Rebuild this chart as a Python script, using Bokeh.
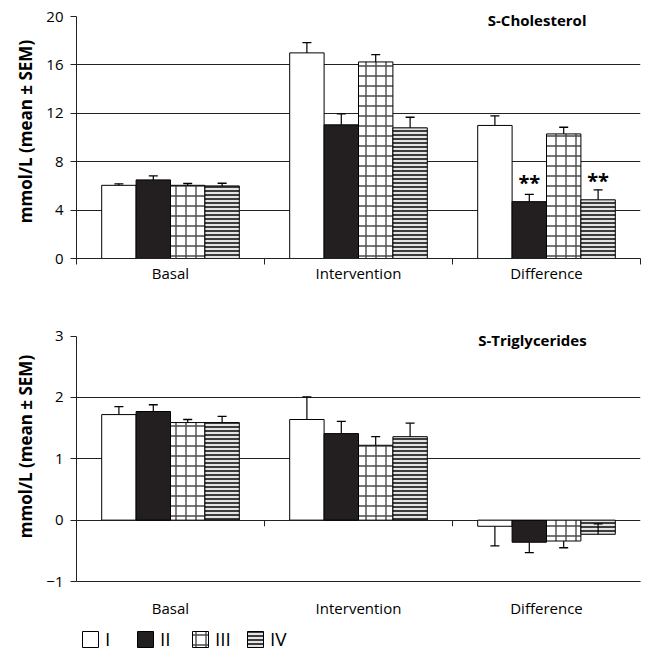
from bokeh.plotting import figure
from bokeh.models import Range1d, FixedTicker, Label, Legend, LegendItem
from bokeh.layouts import column
from bokeh.embed import file_html
from bokeh.resources import INLINE
from bokeh.core.properties import value

# ---------------- data ----------------
categories = ["Basal", "Intervention", "Difference"]
groups = ["I", "II", "III", "IV"]

chol_I = [6.05, 17.0, 11.0]
chol_II = [6.5, 11.05, 4.7]
chol_III = [6.05, 16.25, 10.3]
chol_IV = [6.0, 10.8, 4.85]
chol_sem_I = [0.12, 0.85, 0.8]
chol_sem_II = [0.33, 0.9, 0.6]
chol_sem_III = [0.15, 0.6, 0.55]
chol_sem_IV = [0.22, 0.88, 0.83]

tg_I = [1.72, 1.64, -0.10]
tg_II = [1.77, 1.41, -0.36]
tg_III = [1.59, 1.22, -0.34]
tg_IV = [1.59, 1.36, -0.23]
# signed error-bar length (positive = drawn upward, negative = downward)
tg_sem_I = [0.13, 0.37, -0.32]
tg_sem_II = [0.11, 0.20, -0.17]
tg_sem_III = [0.05, 0.14, -0.11]
tg_sem_IV = [0.10, 0.22, 0.17]

chol_ticks = [0, 4, 8, 12, 16, 20]
tg_ticks = [-1, 0, 1, 2, 3]

# significance markers
stars_cat = ["Difference", "Difference"]
stars_grp = ["II", "IV"]
stars_y = [6.3, 6.45]

FONT = "Open Sans"
BW = 0.183

styles = {
    "I": dict(fill_color="white"),
    "II": dict(fill_color="#231f20"),
    "III": dict(fill_color="white", hatch_pattern="+", hatch_color="#4a4a4a",
                hatch_scale=10, hatch_weight=1.4),
    "IV": dict(fill_color="#e4e4e4", hatch_pattern="-", hatch_color="#2a2a2a",
               hatch_scale=4, hatch_weight=1.8),
}


def bar_x(ci, gi):
    return ci + 0.5 + (gi - 1.5) * BW


def make_fig(means, sems, yr, ybounds, ticks, grid_ticks, title, title_xy, width, height,
             left, right, top, bottom, label_standoff, ylab_standoff):
    p = figure(width=width, height=height, x_range=Range1d(0, 3),
               y_range=Range1d(*yr), output_backend="svg", toolbar_location=None,
               min_border_left=left, min_border_right=right,
               min_border_top=top, min_border_bottom=bottom)
    p.outline_line_color = None
    p.background_fill_color = "white"
    p.xgrid.visible = False
    p.ygrid.ticker = FixedTicker(ticks=grid_ticks)
    p.ygrid.grid_line_color = "#222222"
    p.ygrid.grid_line_width = 1

    ya = p.yaxis[0]
    ya.bounds = ybounds
    ya.ticker = FixedTicker(ticks=ticks)
    ya.axis_line_color = "#222222"
    ya.major_tick_line_color = "#222222"
    ya.major_tick_out = 6
    ya.major_tick_in = 0
    ya.minor_tick_line_color = None
    ya.major_label_text_font = FONT
    ya.major_label_text_font_size = "15px"
    ya.major_label_text_color = "black"
    ya.major_label_standoff = 7
    ya.axis_label = "mmol/L (mean \u00b1 SEM)"
    ya.axis_label_text_font = FONT
    ya.axis_label_text_font_style = "bold"
    ya.axis_label_text_font_size = "17px"
    ya.axis_label_text_color = "black"
    ya.axis_label_standoff = ylab_standoff

    xa = p.xaxis[0]
    centres = [i + 0.5 for i in range(len(categories))]
    borders = [float(i) for i in range(len(categories) + 1)]
    xa.ticker = FixedTicker(ticks=centres, minor_ticks=borders)
    xa.major_label_overrides = {c: n for c, n in zip(centres, categories)}
    xa.axis_line_color = "#222222"
    xa.major_tick_line_color = None
    xa.major_tick_out = 0
    xa.major_tick_in = 0
    xa.minor_tick_line_color = "#222222"
    xa.minor_tick_out = 6
    xa.minor_tick_in = 0
    xa.major_label_text_font = FONT
    xa.major_label_text_font_size = "15px"
    xa.major_label_text_color = "black"
    xa.major_label_standoff = label_standoff

    renderers = []
    for gi, g in enumerate(groups):
        xs = [bar_x(ci, gi) for ci in range(len(categories))]
        r = p.vbar(x=xs, top=means[g], bottom=0, width=BW, line_color="black",
                   line_width=1, **styles[g])
        renderers.append(r)
    for gi, g in enumerate(groups):
        xs = [bar_x(ci, gi) for ci in range(len(categories))]
        tips = [m + s for m, s in zip(means[g], sems[g])]
        p.segment(x0=xs, y0=means[g], x1=xs, y1=tips, line_color="black", line_width=1.2)
        p.scatter(x=xs, y=tips, marker="dash", size=9, line_color="black", line_width=1.3)

    p.add_layout(Label(x=title_xy[0], y=title_xy[1], text=title, text_font=FONT,
                       text_font_style="bold", text_font_size="15px",
                       text_align="center", text_baseline="middle", text_color="black"))
    return p, renderers


chol_means = dict(zip(groups, [chol_I, chol_II, chol_III, chol_IV]))
chol_sems = dict(zip(groups, [chol_sem_I, chol_sem_II, chol_sem_III, chol_sem_IV]))
tg_means = dict(zip(groups, [tg_I, tg_II, tg_III, tg_IV]))
tg_sems = dict(zip(groups, [tg_sem_I, tg_sem_II, tg_sem_III, tg_sem_IV]))

p1, _ = make_fig(chol_means, chol_sems, (0, 21), (0, 20), chol_ticks, [4, 8, 12, 16],
                 "S-Cholesterol", (2.45, 19.68), 645, 300, 76, 0, 4, 42, -2, 6)

sx = [bar_x(categories.index(c), groups.index(g)) for c, g in zip(stars_cat, stars_grp)]
p1.text(x=sx, y=stars_y, text=["**", "**"], text_font=value(FONT), text_font_style="bold",
        text_font_size="20px", text_align="center", text_baseline="middle", text_color="black")

p2, rs = make_fig(tg_means, tg_sems, (-1, 3.4), (-1, 3), tg_ticks, [0, 1, 2],
                  "S-Triglycerides", (2.425, 2.93), 645, 320, 72, 5, 11, 37, 10, 6)
p2.xaxis[0].minor_tick_line_color = None
bx = [float(i) for i in range(1, len(categories) + 1)]
p2.segment(x0=bx[:-1], y0=[0] * (len(bx) - 1), x1=bx[:-1], y1=[-0.1] * (len(bx) - 1),
           line_color="#222222", line_width=1)
p2.segment(x0=bx[-1:], y0=[-1], x1=bx[-1:], y1=[-1.06], line_color="#222222", line_width=1)

# legend strip as its own small figure (hidden proxy bars carry the styles)
p3 = figure(width=645, height=34, x_range=Range1d(0, 1), y_range=Range1d(0, 1),
            output_backend="svg", toolbar_location=None,
            x_axis_location=None, y_axis_location=None,
            min_border_left=0, min_border_right=0, min_border_top=0, min_border_bottom=0)
p3.outline_line_color = None
p3.xgrid.visible = False
p3.ygrid.visible = False
lr = []
for g in groups:
    r = p3.vbar(x=[0.5], top=[tg_means[g][0]], bottom=0, width=0.1, line_color="black",
                line_width=1, **styles[g])
    r.visible = False
    lr.append(r)
legend = Legend(items=[LegendItem(label=g, renderers=[r]) for g, r in zip(groups, lr)],
                orientation="horizontal", location=(4, 2),
                glyph_width=20, glyph_height=20, label_standoff=5, spacing=10,
                label_width=20, padding=0, margin=0, border_line_color=None,
                background_fill_alpha=0, inactive_fill_alpha=0,
                label_text_font=FONT,
                label_text_font_size="19px", label_text_color="black")
p3.add_layout(legend)

layout = column(p1, p2, p3, spacing=0)
open("out.html", "w").write(file_html(layout, INLINE))
